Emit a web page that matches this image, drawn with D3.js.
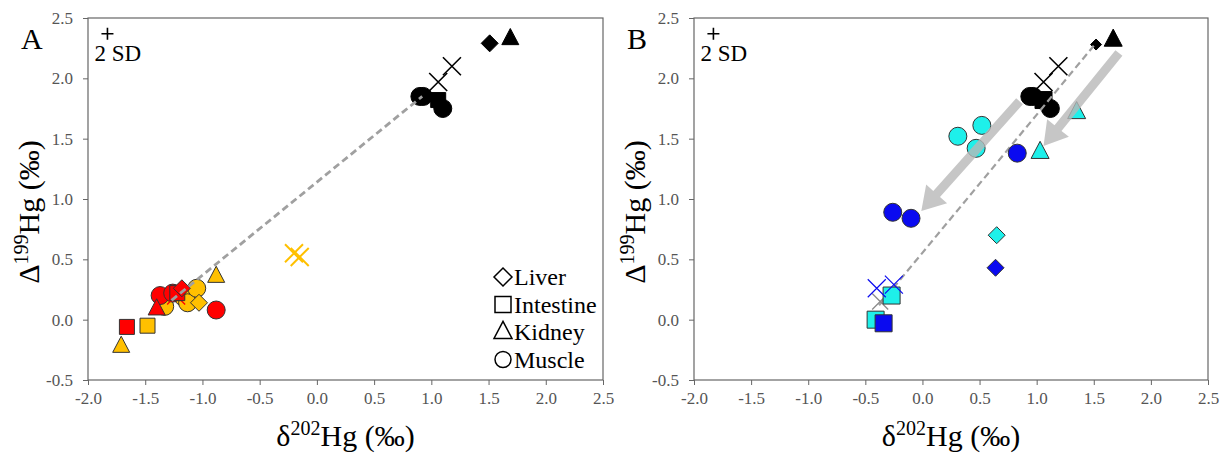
<!DOCTYPE html>
<html><head><meta charset="utf-8">
<script src="https://cdn.jsdelivr.net/npm/d3@7"></script>
<style>body{margin:0;background:#fff}svg{display:block}</style>
</head><body>
<svg id="c" width="1220" height="454"></svg>
<script>
// ---------- data ----------
const xTicks = [-2.0,-1.5,-1.0,-0.5,0.0,0.5,1.0,1.5,2.0,2.5];
const yTicks = [-0.5,0.0,0.5,1.0,1.5,2.0,2.5];
const legendLabels = ["Liver","Intestine","Kidney","Muscle"];

// panel A  [shape, δ202Hg, Δ199Hg]
const aBlack = [["Muscle",0.90,1.85],["Muscle",0.93,1.85],["Muscle",1.10,1.75],["Intestine",1.06,1.82],
                ["X",1.18,2.10],["X",1.06,1.97],["Liver",1.51,2.29],["Kidney",1.69,2.33]];
const aYellowBack = [["Muscle",-1.33,0.11],["Muscle",-1.17,0.19],["Muscle",-1.13,0.14],["Muscle",-1.05,0.26]];
const aRed = [["Muscle",-1.37,0.20],["Muscle",-1.26,0.22],["X",-1.23,0.20],["Intestine",-1.22,0.22],
              ["Liver",-1.18,0.26],["Kidney",-1.40,0.09],["Muscle",-0.88,0.08],["Intestine",-1.66,-0.06]];
const aYellowFront = [["Liver",-1.03,0.14],["Kidney",-0.88,0.36],["Kidney",-1.71,-0.22],["Intestine",-1.48,-0.05],
                      ["X",-0.20,0.55],["X",-0.15,0.52]];
const aTrend = [[-1.27,0.16],[0.92,1.85]];

// panel B
const bBlack = [["Muscle",0.94,1.85],["Muscle",0.97,1.85],["Muscle",1.12,1.75],["Intestine",1.06,1.82],
                ["X",1.19,2.10],["X",1.06,1.97],["Liver",1.52,2.28],["Kidney",1.67,2.32]];
const bGrey = [["X",-0.37,0.15]];
const bCyan = [["Kidney",1.35,1.72],["Kidney",1.03,1.39],["Muscle",0.31,1.52],["Muscle",0.52,1.61],
               ["Muscle",0.47,1.42],["Liver",0.65,0.70],["Intestine",-0.27,0.20],["Intestine",-0.41,0.00]];
const bBlue = [["Muscle",0.83,1.38],["Muscle",-0.26,0.89],["Muscle",-0.10,0.84],["Liver",0.64,0.43],
               ["X",-0.40,0.26],["X",-0.25,0.29],["Intestine",-0.34,-0.03]];
const bTrend = [[-0.38,0.12],[1.50,2.27]];
const bArrows = [[[1.72,2.21],[1.06,1.44]],[[0.85,1.81],[-0.01,0.90]]];
const sdMark = [-1.83,2.37];

// ---------- drawing ----------
const svg = d3.select("#c");
const FONT = "Liberation Serif";
const COL = {black:"#000", red:"#ff0000", yellow:"#ffc000", cyan:"#1ef0ea", blue:"#0a0af0", grey:"#8a8a8a"};
function serif(sel, size){ return sel.style("font-family",`"${FONT}"`).style("font-size",size+"px"); }

function shapePath(shape, s){
  const p = d3.path();
  if(shape==="Muscle"){ p.arc(0,0,s/2,0,2*Math.PI); }
  else if(shape==="Intestine"){ p.rect(-s/2,-s/2,s,s); }
  else if(shape==="Kidney"){ const h=s*0.95; p.moveTo(0,-h*0.62); p.lineTo(s/2,h*0.38); p.lineTo(-s/2,h*0.38); p.closePath(); }
  else if(shape==="Liver"){ const d=s/2; p.moveTo(0,-d); p.lineTo(d,0); p.lineTo(0,d); p.lineTo(-d,0); p.closePath(); }
  return p.toString();
}

function panel(cfg){
  const x = d3.scaleLinear().domain([-2,2.5]).range([cfg.x0,cfg.x1]);
  const y = d3.scaleLinear().domain([-0.5,2.5]).range([380,18]);
  const g = svg.append("g");

  const ax = g.append("g").attr("transform","translate(0,380)")
    .call(d3.axisBottom(x).tickValues(xTicks).tickSize(5).tickSizeOuter(0).tickPadding(7).tickFormat(d=>d.toFixed(1)));
  const ay = g.append("g").attr("transform",`translate(${cfg.x0},0)`)
    .call(d3.axisLeft(y).tickValues(yTicks).tickSize(5).tickSizeOuter(0).tickPadding(10).tickFormat(d=>d.toFixed(1)));
  [ax,ay].forEach(a=>{
    a.attr("font-family",null).attr("font-size",null);
    a.select(".domain").remove();
    a.selectAll("line").attr("stroke","#666");
    serif(a.selectAll("text"),17).attr("fill","#555");
  });
  g.append("rect").attr("x",cfg.x0).attr("y",18).attr("width",cfg.x1-cfg.x0).attr("height",362)
    .attr("fill","none").attr("stroke","#666").attr("stroke-width",1.2);

  // titles
  const xt = serif(g.append("text"),30).attr("x",(cfg.x0+cfg.x1)/2).attr("y",446).attr("text-anchor","middle").attr("fill","#000");
  xt.append("tspan").text("δ");
  serif(xt.append("tspan"),20).attr("dy",-11).text("202");
  serif(xt.append("tspan"),30).attr("dy",11).text("Hg (‰)");
  const yt = serif(g.append("text"),30).attr("transform",`translate(${cfg.x0-49},212) rotate(-90)`).attr("text-anchor","middle").attr("fill","#000");
  yt.append("tspan").text("Δ");
  serif(yt.append("tspan"),20).attr("dy",-11).text("199");
  serif(yt.append("tspan"),30).attr("dy",11).text("Hg (‰)");

  serif(g.append("text"),30).attr("x",cfg.x0-67).attr("y",49).text(cfg.label);

  // 2 SD
  const sx=x(sdMark[0]), sy=y(sdMark[1]);
  g.append("path").attr("d",`M${sx-6},${sy}H${sx+6}M${sx},${sy-6}V${sy+6}`).attr("stroke","#000").attr("stroke-width",1.6);
  serif(g.append("text"),23).attr("x",sx-13).attr("y",sy+27).text("2 SD");

  return {g,x,y};
}

function drawPoints(P, pts, color, sizes){
  pts.forEach(([shape,vx,vy])=>{
    const cx=P.x(vx), cy=P.y(vy);
    if(shape==="X"){
      const h=sizes.X, sw=sizes.xw;
      P.g.append("path").attr("d",`M${cx-h},${cy-h}L${cx+h},${cy+h}M${cx-h},${cy+h}L${cx+h},${cy-h}`)
        .attr("stroke",color).attr("stroke-width",sw).attr("fill","none");
    } else {
      P.g.append("path").attr("transform",`translate(${cx},${cy})`).attr("d",shapePath(shape,sizes[shape]))
        .attr("fill",color).attr("stroke",color==="#000"?"#000":"#333").attr("stroke-width",1);
    }
  });
}

function drawTrend(P, seg, w){
  P.g.append("line").attr("x1",P.x(seg[0][0])).attr("y1",P.y(seg[0][1])).attr("x2",P.x(seg[1][0])).attr("y2",P.y(seg[1][1]))
    .attr("stroke","#a0a0a0").attr("stroke-width",w).attr("stroke-dasharray","7,4");
}

// Panel A
const A = panel({x0:88,x1:603,label:"A"});
const sizesA = {Muscle:18,Intestine:15,Kidney:17,Liver:17,X:9,xw:1.6};
drawPoints(A, aBlack, COL.black, sizesA);
drawPoints(A, aYellowBack, COL.yellow, sizesA);
drawPoints(A, aRed.slice(0,2), COL.red, sizesA);
drawPoints(A, aRed.slice(2,3), COL.red, {...sizesA,X:9,xw:1.4});
drawPoints(A, aRed.slice(3), COL.red, sizesA);
drawPoints(A, aYellowFront.filter(d=>d[0]!=="X"), COL.yellow, sizesA);
drawPoints(A, aYellowFront.filter(d=>d[0]==="X"), COL.yellow, {...sizesA,X:9,xw:2});
drawTrend(A, aTrend, 2.8);

// legend A
legendLabels.forEach((t,i)=>{
  const ly = 277+i*27.5;
  A.g.append("path").attr("transform",`translate(503,${ly})`).attr("d",shapePath(t,t==="Muscle"?16:(t==="Intestine"?16:18)))
    .attr("fill","#fff").attr("stroke","#000").attr("stroke-width",1.5);
  serif(A.g.append("text"),24).attr("x",514).attr("y",ly+8).text(t);
});

// Panel B
const B = panel({x0:694,x1:1208,label:"B"});
const sizesB = {Muscle:18,Intestine:17,Kidney:18,Liver:17,X:9,xw:1.6};
drawPoints(B, bBlack.filter(d=>d[0]!=="Liver"), COL.black, sizesB);
drawPoints(B, bBlack.filter(d=>d[0]==="Liver"), COL.black, {...sizesB,Liver:11});
drawTrend(B, bTrend, 2.2);
drawPoints(B, bGrey, COL.grey, {...sizesB,X:8,xw:1.3});
drawPoints(B, bCyan, COL.cyan, sizesB);
drawPoints(B, bBlue.filter(d=>d[0]!=="X"), COL.blue, sizesB);
drawPoints(B, bBlue.filter(d=>d[0]==="X"), COL.blue, {...sizesB,X:9,xw:1.2});

// arrows B
bArrows.forEach(([s,e])=>{
  const x1=B.x(s[0]), y1=B.y(s[1]), x2=B.x(e[0]), y2=B.y(e[1]);
  const dx=x2-x1, dy=y2-y1, L=Math.hypot(dx,dy), ux=dx/L, uy=dy/L, nx=-uy, ny=ux;
  const sw=4.5, hw=14, hl=23;
  const bx=x2-ux*hl, by=y2-uy*hl;
  const pts=[[x1+nx*sw,y1+ny*sw],[bx+nx*sw,by+ny*sw],[bx+nx*hw,by+ny*hw],[x2,y2],[bx-nx*hw,by-ny*hw],[bx-nx*sw,by-ny*sw],[x1-nx*sw,y1-ny*sw]];
  B.g.append("path").attr("d","M"+pts.map(p=>p.join(",")).join("L")+"Z").attr("fill","#b8b8b8").attr("opacity",0.8);
});
</script>
</body></html>
